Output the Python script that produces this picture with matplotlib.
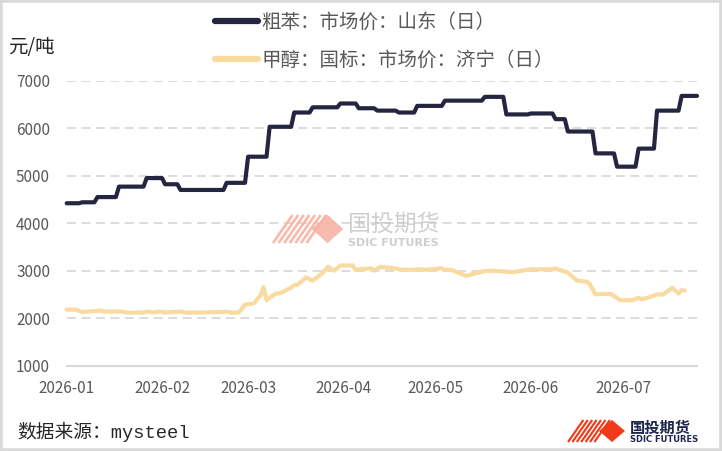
import matplotlib
matplotlib.use("Agg")
import matplotlib.pyplot as plt
from matplotlib.patches import Rectangle, Polygon
from matplotlib.lines import Line2D
import pandas as pd

plt.rcParams['font.family'] = ['Noto Sans CJK SC', 'DejaVu Sans']

# ---------------- data ----------------
benzene_dates = [
    "2026-01-01", "2026-01-05", "2026-01-06", "2026-01-10", "2026-01-11", "2026-01-17",
    "2026-01-18", "2026-01-26", "2026-01-27", "2026-02-01", "2026-02-02", "2026-02-06",
    "2026-02-07", "2026-02-21", "2026-02-22", "2026-02-28", "2026-03-01", "2026-03-07",
    "2026-03-08", "2026-03-15", "2026-03-16", "2026-03-21", "2026-03-22", "2026-03-30",
    "2026-03-31", "2026-04-05", "2026-04-06", "2026-04-11", "2026-04-12", "2026-04-18",
    "2026-04-19", "2026-04-24", "2026-04-25", "2026-05-03", "2026-05-04", "2026-05-16",
    "2026-05-17", "2026-05-23", "2026-05-24", "2026-05-31", "2026-06-01", "2026-06-08",
    "2026-06-09", "2026-06-12", "2026-06-13", "2026-06-21", "2026-06-22", "2026-06-28",
    "2026-06-29", "2026-07-05", "2026-07-06", "2026-07-11", "2026-07-12", "2026-07-19",
    "2026-07-20", "2026-07-25",
]
benzene_values = [
    4420, 4420, 4440, 4440, 4550, 4550,
    4770, 4770, 4950, 4950, 4820, 4820,
    4700, 4700, 4850, 4850, 5400, 5400,
    6030, 6030, 6330, 6330, 6440, 6440,
    6520, 6520, 6420, 6420, 6370, 6370,
    6330, 6330, 6470, 6470, 6580, 6580,
    6660, 6660, 6290, 6290, 6310, 6310,
    6190, 6190, 5930, 5930, 5470, 5470,
    5190, 5190, 5570, 5570, 6370, 6370,
    6680, 6680,
]

methanol_dates = [
    "2026-01-01", "2026-01-04", "2026-01-06", "2026-01-12", "2026-01-13", "2026-01-19",
    "2026-01-21", "2026-01-26", "2026-01-27", "2026-01-29", "2026-01-31", "2026-02-02",
    "2026-02-07", "2026-02-09", "2026-02-14", "2026-02-22", "2026-02-24", "2026-02-26",
    "2026-02-27", "2026-02-28", "2026-03-02", "2026-03-03", "2026-03-05", "2026-03-06",
    "2026-03-07", "2026-03-10", "2026-03-11", "2026-03-13", "2026-03-15", "2026-03-16",
    "2026-03-17", "2026-03-20", "2026-03-22", "2026-03-25", "2026-03-27", "2026-03-29",
    "2026-03-31", "2026-04-04", "2026-04-05", "2026-04-06", "2026-04-10", "2026-04-11",
    "2026-04-13", "2026-04-16", "2026-04-17", "2026-04-20", "2026-04-24", "2026-04-25",
    "2026-04-28", "2026-05-03", "2026-05-04", "2026-05-06", "2026-05-08", "2026-05-11",
    "2026-05-12", "2026-05-16", "2026-05-18", "2026-05-22", "2026-05-26", "2026-05-29",
    "2026-06-01", "2026-06-08", "2026-06-09", "2026-06-13", "2026-06-16", "2026-06-19",
    "2026-06-20", "2026-06-22", "2026-06-24", "2026-06-27", "2026-06-30", "2026-07-04",
    "2026-07-06", "2026-07-07", "2026-07-09", "2026-07-12", "2026-07-14", "2026-07-17",
    "2026-07-19", "2026-07-20", "2026-07-21",
]
methanol_values = [
    2180, 2180, 2130, 2160, 2140, 2140,
    2115, 2120, 2140, 2120, 2140, 2120,
    2140, 2115, 2120, 2135, 2115, 2120,
    2200, 2290, 2300, 2320, 2480, 2650,
    2380, 2520, 2520, 2575, 2645, 2700,
    2700, 2860, 2790, 2940, 3085, 3000,
    3110, 3110, 3015, 3030, 3050, 3000,
    3080, 3060, 3060, 3020, 3020, 3030,
    3020, 3050, 3020, 3020, 2965, 2890,
    2910, 2980, 3000, 2990, 2970, 3000,
    3030, 3030, 3045, 2960, 2790, 2770,
    2730, 2500, 2510, 2510, 2380, 2380,
    2430, 2400, 2430, 2500, 2500, 2640,
    2520, 2590, 2580,
]

series_labels = ["粗苯：市场价：山东（日）", "甲醇：国标：市场价：济宁（日）"]
y_ticks = [1000, 2000, 3000, 4000, 5000, 6000, 7000]
x_tick_labels = ["2026-01", "2026-02", "2026-03", "2026-04", "2026-05", "2026-06", "2026-07"]
unit_label = "元/吨"
source_label = "数据来源：mysteel"
brand_cn = "国投期货"
brand_en = "SDIC FUTURES"

# ---------------- figure ----------------
W, H, DPI = 722, 451, 100
fig = plt.figure(figsize=(W / DPI, H / DPI), dpi=DPI)
fig.patch.set_facecolor("white")

def fx(px):
    return px / W

def fy(py):
    return 1 - py / H

ax_l, ax_r, ax_t, ax_b = 66.7, 697, 80.7, 365.7
ax = fig.add_axes([fx(ax_l), fy(ax_b), fx(ax_r) - fx(ax_l), fy(ax_t) - fy(ax_b)])

bd = pd.to_datetime(benzene_dates)
md = pd.to_datetime(methanol_dates)

c_benz = "#262541"
c_meth = "#F9DB9F"
ax.plot(md, methanol_values, color=c_meth, lw=3.0, solid_joinstyle="round",
        solid_capstyle="round", label=series_labels[1], zorder=3, clip_on=False)
ax.plot(bd, benzene_values, color=c_benz, lw=3.0, solid_joinstyle="round",
        solid_capstyle="round", label=series_labels[0], zorder=4, clip_on=False)

ax.set_ylim(y_ticks[0], y_ticks[-1])
ax.set_xlim(bd[0], bd[-1])
ax.set_yticks(y_ticks)
ax.set_xticks(pd.to_datetime([s + "-01" for s in x_tick_labels]))
ax.set_xticklabels(x_tick_labels)

for s in ["top", "right", "left"]:
    ax.spines[s].set_visible(False)
ax.spines["bottom"].set_color("#D9D9D9")
ax.spines["bottom"].set_linewidth(1.5)
ax.tick_params(axis="both", length=0, labelsize=11, labelcolor="#595959")
ax.tick_params(axis="y", pad=12)
ax.tick_params(axis="x", pad=10)
for yv in y_ticks[1:]:
    ax.axhline(yv, color="#D9D9D9", lw=1.3, ls=(0, (5, 3)), zorder=1)

# legend
handles = [Line2D([], [], color=c_benz, lw=4.5, solid_capstyle="round"),
           Line2D([], [], color=c_meth, lw=4.5, solid_capstyle="round")]
leg = fig.legend(handles, series_labels, loc="upper left",
                 bbox_to_anchor=(fx(207), fy(4)), frameon=False,
                 fontsize=14, handlelength=2.2, handletextpad=0.2,
                 labelspacing=0.9, borderaxespad=0)
for t in leg.get_texts():
    t.set_color("#595959")

fig.text(fx(8), fy(47), unit_label, fontsize=14, color="#262626", va="center", ha="left")
fig.text(fx(17), fy(432), source_label, fontsize=13.5, color="#262626", va="center",
         ha="left", family=["Liberation Mono", "Noto Sans CJK SC"])

# ---------------- logos ----------------
def draw_logo(x0, ytop, h, cx, hw, hh, tx, cn_y, en_y, stripe_c, diamond_c, text_c,
              cn_size, en_size, cn_w, alpha=1.0):
    n = 7
    for i in range(n):
        xb = x0 + i * h * 0.2
        fig.add_artist(Line2D([fx(xb), fx(xb + h * 0.7)], [fy(ytop + h), fy(ytop)],
                              color=stripe_c, lw=h * 0.07, alpha=alpha,
                              solid_capstyle="butt"))
    cy = ytop + h / 2
    fig.add_artist(Polygon([(fx(cx - hw), fy(cy)), (fx(cx), fy(cy - hh)),
                            (fx(cx + hw), fy(cy)), (fx(cx), fy(cy + hh))],
                           closed=True, fc=diamond_c, ec="none", alpha=alpha))
    fig.text(fx(tx), fy(cn_y), brand_cn, fontsize=cn_size, color=text_c,
             weight=cn_w, va="center", ha="left", alpha=alpha)
    fig.text(fx(tx), fy(en_y), brand_en, fontsize=en_size, color=text_c,
             weight="bold", va="center", ha="left", alpha=alpha, family="DejaVu Sans")

draw_logo(273, 215, 28, 327.5, 15.8, 14.2, 348, 224, 242.5,
          "#F6B3A6", "#F6B3A6", "#C9C9C9", 16.5, 8.0, "normal", alpha=0.9)
draw_logo(568, 420, 22, 612, 13, 11, 630, 427.5, 439.8,
          "#F23A1A", "#F23A1A", "#1E2650", 11.0, 6.0, "bold")

# border
fig.add_artist(Rectangle((0, 0), 1, 1, transform=fig.transFigure, fill=False,
                         ec="#D9D9D9", lw=4))

fig.savefig("out.png", dpi=DPI, facecolor="white")
